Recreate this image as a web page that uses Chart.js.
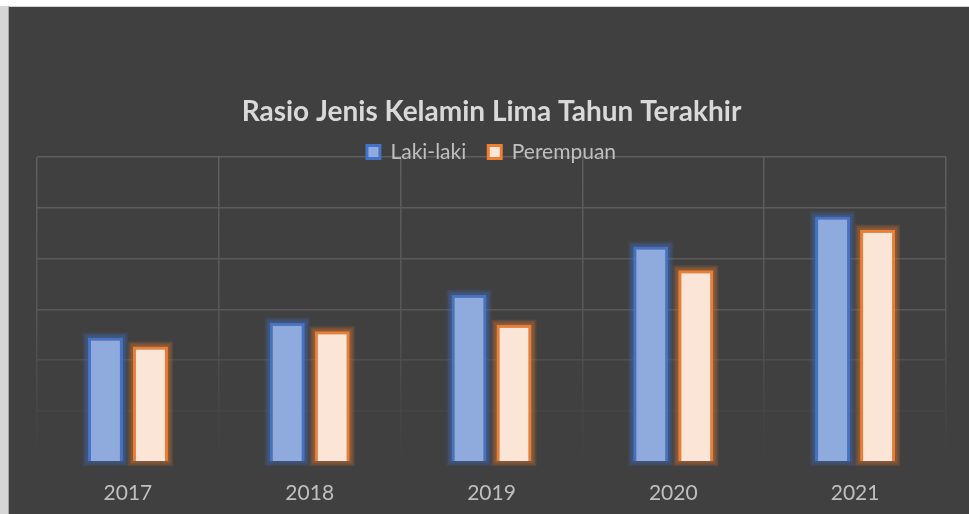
<!DOCTYPE html>
<html>
<head>
<meta charset="utf-8">
<script src="https://cdn.jsdelivr.net/npm/chart.js@4"></script>
<style>
  html, body { margin: 0; padding: 0; background: #ffffff; }
  body { width: 969px; height: 514px; position: relative; overflow: hidden; }
  .strip { position: absolute; left: 0; top: 6px; width: 8px; height: 508px; background: #d6d6d6; }
  .box { position: absolute; left: 8px; top: 6px; width: 960px; height: 507px; background: #404040;
         border-left: 1px solid #a6a6a6; border-top: 1px solid #d0d0d0; }
</style>
</head>
<body>
<div class="strip"></div>
<div class="box"><canvas id="rasioChart" width="960" height="507"></canvas></div>
<script>
// data rasio jenis kelamin (tanpa label sumbu y)
const tahun = ['2017', '2018', '2019', '2020', '2021'];
const lakiLaki = [2.45, 2.74, 3.29, 4.24, 4.83];
const perempuan = [2.27, 2.57, 2.70, 3.77, 4.57];

// gradasi garis grid: terang di atas, memudar ke bawah
function gridColor(ctx) {
  const chart = ctx.chart;
  const area = chart.chartArea;
  if (!area) return '#5a5a5a';
  const g = chart.ctx.createLinearGradient(0, area.top, 0, area.bottom);
  g.addColorStop(0, '#5e5e5e');
  g.addColorStop(0.5, '#575757');
  g.addColorStop(0.67, '#4d4d4d');
  g.addColorStop(0.84, '#454545');
  g.addColorStop(1, '#404040');
  return g;
}

// efek glow di sekeliling batang (lapisan garis transparan, posisi dari elemen bar)
const glowColors = ['68,114,196', '237,125,49'];
const glow = {
  id: 'glow',
  beforeDatasetsDraw(chart) {
    const c = chart.ctx;
    c.save();
    chart.data.datasets.forEach((ds, i) => {
      const meta = chart.getDatasetMeta(i);
      meta.data.forEach(bar => {
        const { x, y, base, width } = bar.getProps(['x', 'y', 'base', 'width'], true);
        const left = x - width / 2;
        const top = Math.min(y, base);
        const h = Math.abs(base - y);
        [10, 7, 4].forEach(lw => {
          c.lineWidth = lw;
          c.strokeStyle = `rgba(${glowColors[i]},0.16)`;
          c.strokeRect(left, top, width, h);
        });
      });
    });
    c.restore();
  }
};

// legenda menumpuk di garis grid teratas: perluas area klip legenda ke bawah
const legendOverlap = {
  id: 'legendOverlap',
  afterLayout(chart) {
    if (chart.legend) chart.legend.bottom = chart.legend.top + 70;
  }
};

const ctx = document.getElementById('rasioChart').getContext('2d');
new Chart(ctx, {
  type: 'bar',
  data: {
    labels: tahun,
    datasets: [{
      label: 'Laki-laki',
      data: lakiLaki,
      backgroundColor: '#8faadc',
      borderColor: '#4472c4',
      borderWidth: 3
    }, {
      label: 'Perempuan',
      data: perempuan,
      backgroundColor: '#fbe5d6',
      borderColor: '#ed7d31',
      borderWidth: 3
    }]
  },
  options: {
    responsive: false,
    animation: false,
    categoryPercentage: 0.495,
    barPercentage: 0.78,
    layout: { padding: { left: 28, right: 23, top: 0, bottom: -11 } },
    plugins: {
      title: {
        display: true,
        text: 'Rasio Jenis Kelamin Lima Tahun Terakhir',
        color: '#d9d9d9',
        font: { family: 'Lato', size: 28, weight: 'bold' },
        padding: { top: 88, bottom: -9 }
      },
      legend: {
        position: 'top',
        maxHeight: 37.5,
        labels: {
          color: '#bfbfbf',
          font: { family: 'Lato', size: 21 },
          boxWidth: 13,
          boxHeight: 13,
          padding: 22
        }
      },
      tooltip: { enabled: false }
    },
    scales: {
      x: {
        grid: { color: gridColor, lineWidth: 1.5, drawTicks: false },
        border: { display: false },
        ticks: { color: '#bfbfbf', font: { family: 'Lato', size: 21 }, padding: 19 }
      },
      y: {
        min: 0,
        max: 6,
        grid: { color: gridColor, lineWidth: 1.5, drawTicks: false },
        border: { display: false },
        ticks: { display: false, stepSize: 1 }
      }
    }
  },
  plugins: [glow, legendOverlap]
});
</script>
</body>
</html>
